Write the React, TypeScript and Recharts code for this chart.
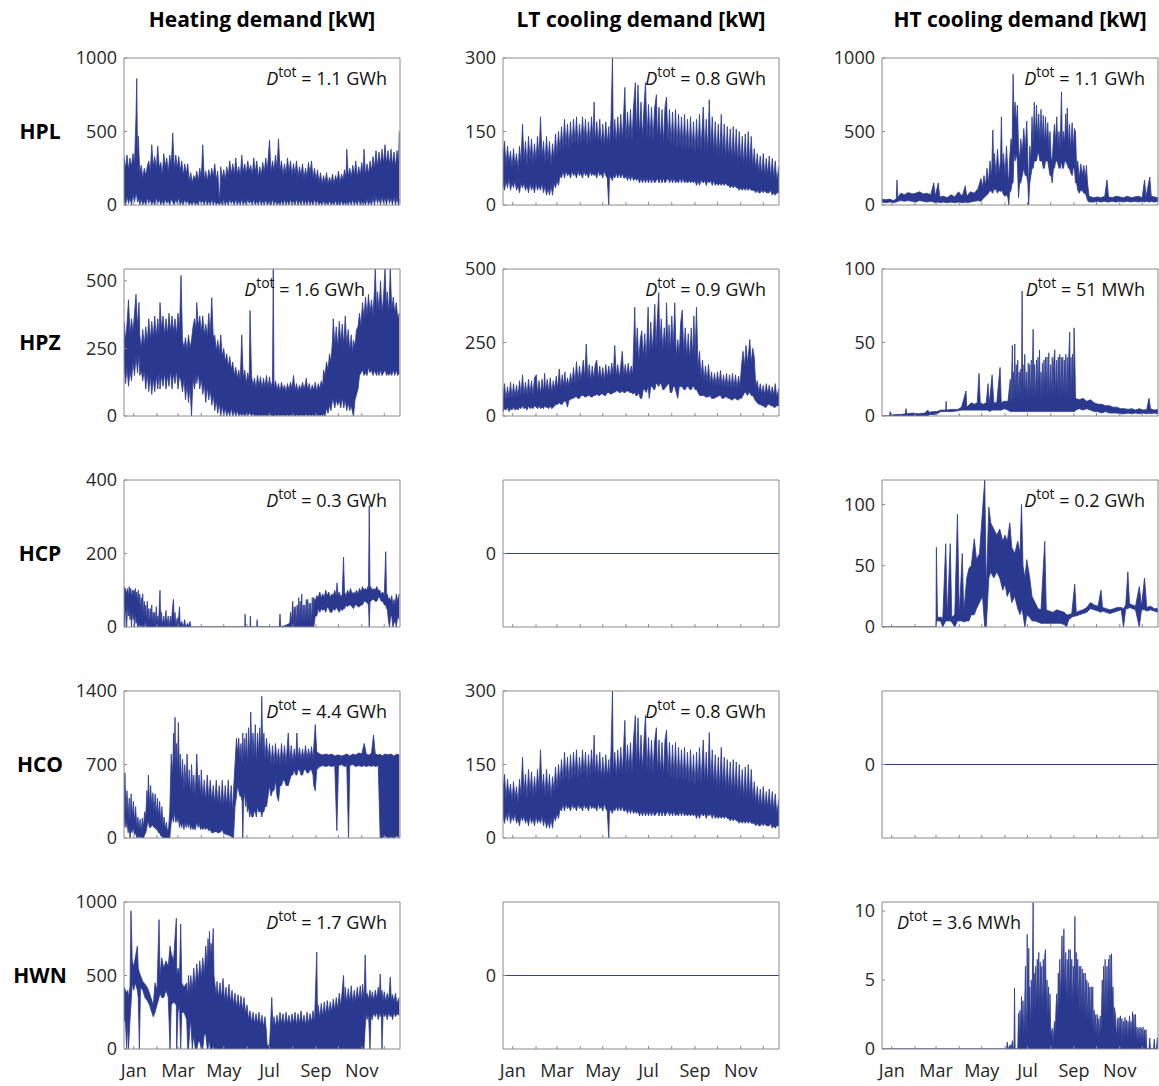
import React from 'react';
import { ComposedChart, Area, XAxis, YAxis } from 'recharts';

type Row3 = [number, number, number];

const rowNames = ['HPL', 'HPZ', 'HCP', 'HCO', 'HWN'];
const colTitles = ['Heating demand [kW]', 'LT cooling demand [kW]', 'HT cooling demand [kW]'];
const monthStarts = [0, 31, 59, 90, 120, 151, 181, 212, 243, 273, 304, 334];
const monthLabels = ['Jan', '', 'Mar', '', 'May', '', 'Jul', '', 'Sep', '', 'Nov', ''];
const dayRange: [number, number] = [-13, 355];

// [day, low, high]
const hplHeat: Row3[] = [
  [-13, 40, 330], [-11, 0, 250], [-9, 60, 340], [-7, 10, 240], [-5, 50, 320], [-3, 0, 260], [-1, 70, 350], [1, 20, 280],
  [3, 80, 600], [4, 60, 860], [5, 20, 300], [6, 50, 470], [8, 0, 220], [10, 40, 270], [12, 0, 180], [14, 30, 250],
  [16, 0, 200], [18, 50, 260], [20, 10, 300], [22, 40, 220], [24, 0, 410], [26, 30, 260], [28, 0, 330], [30, 50, 240],
  [32, 10, 400], [34, 40, 250], [36, 0, 290], [38, 30, 200], [40, 0, 350], [42, 40, 260], [44, 10, 320], [46, 30, 220],
  [48, 0, 340], [50, 40, 260], [52, 20, 490], [54, 0, 240], [56, 40, 340], [58, 10, 250], [60, 50, 330], [62, 0, 230],
  [64, 30, 300], [66, 0, 200], [68, 40, 280], [70, 10, 210], [72, 30, 280], [74, 0, 160], [76, 20, 220], [78, 0, 150],
  [80, 30, 200], [82, 0, 170], [84, 20, 230], [86, 0, 160], [88, 40, 250], [90, 10, 180], [92, 30, 410], [94, 0, 170],
  [96, 40, 230], [98, 0, 160], [100, 30, 240], [102, 0, 180], [104, 40, 250], [106, 0, 190], [108, 30, 280],
  [110, 0, 170], [112, 20, 230], [114.5, 0, 10], [116, 30, 260], [118, 0, 180], [120, 40, 240], [122, 0, 170],
  [124, 30, 260], [126, 0, 200], [128, 40, 300], [130, 10, 210], [132, 30, 280], [134, 0, 200], [136, 40, 320],
  [138, 0, 210], [140, 30, 260], [142, 0, 190], [144, 40, 340], [146, 0, 220], [148, 30, 280], [150, 0, 210],
  [152, 40, 300], [154, 10, 230], [156, 30, 270], [158, 0, 200], [160, 40, 320], [162, 0, 220], [164, 30, 300],
  [166, 0, 190], [168, 40, 260], [170, 0, 200], [172, 30, 290], [174, 0, 220], [176, 40, 320], [178, 0, 230],
  [181, 30, 440], [183, 0, 220], [185, 40, 300], [187, 0, 230], [189, 30, 340], [191, 0, 240], [193, 20, 450],
  [195, 0, 230], [197, 30, 300], [199, 0, 200], [201, 40, 280], [203, 0, 210], [205, 30, 320], [207, 0, 220],
  [209, 40, 300], [211, 0, 200], [213, 30, 280], [215, 0, 210], [217, 40, 300], [219, 0, 190], [221, 30, 260],
  [223, 0, 200], [225, 40, 280], [227, 0, 180], [229, 30, 250], [231, 0, 190], [233, 40, 290], [235, 0, 210],
  [237, 30, 300], [239, 0, 180], [241, 40, 250], [243, 0, 170], [245, 30, 240], [247, 0, 150], [249, 20, 220],
  [251, 0, 140], [253, 30, 200], [255, 0, 150], [257, 20, 220], [259, 0, 140], [261, 30, 190], [263, 0, 150],
  [265, 20, 210], [267, 0, 140], [269, 30, 200], [271, 0, 160], [273, 20, 230], [275, 0, 150], [277, 30, 210],
  [279, 0, 170], [281, 20, 240], [283, 0, 180], [284, 30, 380], [286, 0, 190], [288, 30, 250], [290, 0, 190],
  [292, 40, 270], [294, 0, 200], [296, 30, 300], [298, 0, 190], [300, 40, 260], [302, 0, 200], [304, 30, 290],
  [306, 0, 210], [307, 30, 380], [309, 0, 200], [311, 40, 280], [313, 0, 210], [315, 30, 300], [317, 0, 230],
  [319, 50, 330], [321, 0, 250], [323, 60, 370], [325, 10, 260], [327, 50, 360], [329, 0, 270], [331, 60, 380],
  [333, 10, 280], [335, 50, 410], [337, 0, 280], [339, 60, 370], [341, 10, 270], [343, 50, 380], [345, 0, 270],
  [347, 60, 360], [349, 0, 260], [351, 50, 370], [353, 0, 280], [354, 40, 500],
];

const hplLt: Row3[] = [
  [-13, 45, 95], [-11, 30, 130], [-9, 50, 80], [-7, 35, 120], [-5, 55, 85], [-3, 30, 110], [-1, 45, 75], [1, 35, 115],
  [3, 50, 80], [5, 30, 105], [7, 40, 70], [9, 25, 120], [11, 45, 85], [13, 35, 165], [15, 45, 90], [17, 30, 130],
  [19, 40, 80], [21, 25, 140], [23, 45, 90], [25, 30, 135], [27, 40, 85], [29, 25, 125], [31, 45, 90], [33, 30, 140],
  [35, 40, 95], [37, 30, 180], [39, 45, 95], [41, 25, 130], [43, 40, 85], [45, 20, 140], [47, 35, 90], [49, 20, 130],
  [51, 40, 80], [53, 20, 125], [55, 45, 95], [57, 35, 145], [59, 50, 100], [61, 40, 150], [63, 60, 110], [65, 55, 160],
  [67, 70, 115], [69, 55, 175], [71, 70, 120], [73, 60, 165], [75, 65, 115], [77, 55, 170], [79, 70, 120],
  [81, 60, 175], [83, 65, 125], [85, 55, 180], [87, 70, 120], [89, 60, 165], [91, 65, 125], [93, 55, 180],
  [95, 70, 130], [97, 60, 175], [99, 65, 120], [101, 55, 170], [103, 70, 125], [105, 60, 180], [107, 65, 130],
  [108.5, 60, 210], [110, 65, 125], [112, 55, 170], [114, 70, 125], [116, 60, 175], [118, 65, 120], [120, 55, 165],
  [122, 70, 120], [124, 60, 170], [126, 55, 125], [128, 0, 160], [129, 60, 120], [131, 55, 175], [133, 50, 300],
  [134, 60, 130], [136, 55, 175], [138, 65, 125], [140, 55, 180], [142, 65, 130], [144, 55, 185], [146, 65, 130],
  [148, 55, 190], [149.5, 55, 240], [151, 60, 130], [153, 50, 190], [155, 60, 135], [157, 50, 195], [159, 60, 130],
  [161, 50, 200], [163.5, 55, 250], [165, 50, 140], [167, 55, 245], [169, 45, 140], [171, 55, 210], [173, 45, 135],
  [175, 55, 200], [177, 45, 250], [179, 55, 135], [181, 45, 205], [183, 55, 135], [185, 45, 200], [187, 55, 130],
  [189, 45, 195], [191.5, 50, 225], [193, 55, 130], [195, 45, 200], [197, 55, 130], [199, 45, 195], [201, 55, 125],
  [203, 45, 200], [205, 50, 220], [207, 55, 125], [209, 45, 195], [211, 55, 120], [213, 45, 190], [215, 55, 120],
  [217, 45, 195], [219, 50, 115], [221, 45, 185], [223, 55, 120], [225, 45, 180], [227, 55, 115], [229, 45, 185],
  [231, 50, 115], [233, 45, 175], [235, 50, 110], [237, 45, 180], [239, 50, 110], [241, 45, 170], [243, 50, 105],
  [245, 40, 175], [247, 50, 110], [249, 40, 185], [251, 50, 110], [254, 45, 200], [256, 50, 110], [258, 40, 175],
  [260, 50, 105], [262, 45, 215], [264, 50, 110], [266, 40, 180], [268, 50, 105], [270, 40, 170], [272, 45, 100],
  [274, 40, 165], [276, 45, 100], [278, 40, 185], [280, 45, 100], [282, 40, 165], [284, 45, 95], [286, 40, 160],
  [288, 40, 95], [290, 35, 155], [292, 40, 90], [294, 35, 160], [296, 40, 90], [298, 35, 155], [300, 35, 85],
  [302, 30, 150], [304, 35, 85], [306, 30, 140], [308, 35, 80], [310, 30, 145], [312, 35, 80], [314, 30, 150],
  [316, 35, 80], [318, 30, 140], [320, 30, 75], [322, 30, 115], [324, 25, 70], [326, 30, 105], [328, 25, 65],
  [330, 25, 100], [332, 30, 60], [334, 25, 105], [336, 30, 60], [338, 25, 95], [340, 25, 60], [342, 25, 100],
  [344, 30, 55], [346, 20, 95], [348, 25, 55], [350, 20, 90], [352, 25, 50], [355, 25, 80],
];

const hplHt: Row3[] = [
  [-13, 20, 40], [-8, 15, 35], [-3, 20, 40], [2, 15, 30], [6, 20, 40], [7, 20, 170], [8, 25, 50], [12, 30, 80],
  [17, 25, 70], [22, 30, 85], [27, 25, 75], [32, 20, 80], [37, 30, 90], [42, 25, 75], [47, 20, 80], [52, 25, 70],
  [56, 20, 150], [58, 15, 60], [62, 20, 150], [64, 15, 55], [69, 20, 60], [74, 15, 50], [79, 20, 70], [84, 15, 55],
  [89, 20, 90], [94, 15, 60], [98, 20, 130], [100, 15, 60], [105, 20, 90], [110, 25, 80], [115, 30, 110],
  [119, 25, 180], [121, 40, 120], [123, 50, 200], [125, 60, 130], [127, 70, 250], [129, 80, 150], [131, 100, 300],
  [133, 90, 180], [134.8, 80, 510], [136, 120, 250], [137, 100, 350], [139, 110, 200], [141, 80, 380],
  [143, 100, 220], [145, 90, 300], [146.2, 100, 600], [147.5, 90, 250], [149, 70, 350], [151, 60, 200],
  [153, 70, 400], [155, 50, 200], [156, 0, 150], [157, 80, 300], [159, 100, 450], [160.5, 150, 400],
  [161.8, 150, 890], [163, 350, 600], [164.5, 300, 700], [166, 350, 550], [167.5, 300, 680], [169, 50, 400],
  [170.5, 150, 300], [172, 150, 450], [174, 200, 350], [176, 250, 520], [178, 200, 380], [180, 200, 570],
  [181.5, 150, 300], [182.5, 0, 100], [184, 150, 400], [185.5, 200, 300], [187, 250, 600], [188.5, 250, 400],
  [190, 300, 700], [191.5, 300, 450], [193, 300, 680], [194.5, 350, 450], [196, 350, 620], [197.5, 300, 420],
  [199, 300, 650], [200.5, 300, 450], [202, 250, 610], [203.5, 250, 400], [205, 300, 600], [206.5, 300, 420],
  [208, 300, 560], [209.5, 250, 380], [211, 200, 500], [212.5, 200, 320], [214, 150, 300], [215.5, 250, 450],
  [217, 250, 550], [218.5, 300, 420], [220, 300, 600], [221.5, 280, 400], [223, 250, 500], [224.5, 250, 380],
  [226.3, 300, 770], [227.5, 250, 400], [229, 250, 500], [230.5, 300, 420], [232, 300, 620], [233, 280, 450],
  [234, 280, 660], [235.5, 250, 400], [237, 250, 550], [238.5, 220, 380], [240.5, 200, 560], [242, 250, 380],
  [243.5, 250, 520], [245, 150, 500], [246.5, 150, 250], [248, 100, 300], [250, 80, 180], [252, 100, 280],
  [254, 100, 200], [256, 80, 270], [258, 80, 180], [259.5, 60, 270], [261, 30, 150], [263, 20, 60],
  [269, 20, 50], [274, 25, 55], [279, 20, 50], [284, 25, 60],
  [287, 20, 170], [289, 20, 55], [294, 25, 50], [299, 20, 60], [304, 25, 55], [309, 20, 50], [314, 25, 60], [319, 20, 50],
  [324, 25, 55], [329, 20, 60], [334, 25, 50], [337, 20, 170], [339, 25, 55], [344, 20, 190], [346, 25, 60],
  [350, 20, 55], [355, 25, 50],
];

const hpzHeat: Row3[] = [
  [-13, 200, 350], [-11, 120, 280], [-9, 180, 340], [-7, 110, 430], [-5, 170, 300], [-3, 130, 360], [-1, 200, 310],
  [1, 150, 380], [3, 220, 450], [5, 160, 330], [7, 230, 420], [8, 150, 300], [10, 170, 250], [12, 130, 320],
  [14, 170, 260], [16, 100, 330], [18, 160, 270], [20, 90, 360], [22, 150, 280], [24, 80, 350], [26, 140, 290],
  [28, 90, 370], [30, 150, 290], [32, 100, 360], [34, 160, 300], [35, 100, 420], [37, 150, 320], [39, 110, 370],
  [41, 160, 300], [43, 100, 360], [45, 150, 300], [47, 110, 380], [49, 170, 310], [51, 100, 370], [53, 160, 310],
  [55, 120, 360], [57, 170, 300], [59, 100, 380], [61, 150, 320], [63, 130, 520], [65, 90, 280], [67, 140, 250],
  [69, 60, 290], [71, 120, 240], [73, 50, 300], [75, 110, 250], [77, 0, 280], [79, 140, 330], [81, 100, 360],
  [83, 150, 320], [84, 120, 420], [86, 160, 330], [88, 100, 370], [90, 140, 310], [92, 80, 370], [94, 120, 300],
  [96, 50, 340], [98, 110, 290], [100, 60, 380], [102, 100, 300], [104, 40, 438], [106, 80, 290], [108, 20, 300],
  [110, 60, 240], [112, 10, 280], [114, 50, 230], [116, 0, 300], [118, 40, 220], [120, 0, 250], [122, 30, 200],
  [124, 0, 230], [126, 20, 180], [128, 0, 220], [130, 30, 170], [132, 0, 200], [134, 20, 150], [136, 0, 180],
  [138, 20, 140], [140, 0, 170], [142, 10, 130], [144, 0, 300], [146, 10, 140], [148, 0, 170], [150, 10, 120],
  [152, 0, 160], [154, 10, 130], [155, 10, 390], [157, 0, 150], [159, 10, 110], [161, 0, 140], [163, 5, 100],
  [165, 0, 150], [167, 5, 110], [169, 0, 145], [171, 5, 100], [173, 0, 140], [175, 5, 105], [177, 0, 150],
  [179, 5, 100], [181, 0, 145], [183, 5, 105], [185, 0, 130], [186, 0, 544], [187, 0, 100], [189, 5, 130],
  [191, 0, 95], [193, 5, 120], [195, 0, 90], [197, 5, 125], [199, 0, 95], [201, 5, 115], [203, 0, 90], [205, 5, 120],
  [207, 0, 95], [209, 5, 125], [211, 0, 100], [213, 5, 150], [215, 0, 95], [217, 5, 120], [219, 0, 90], [221, 5, 115],
  [223, 0, 95], [225, 5, 125], [227, 0, 100], [229, 5, 120], [230, 5, 140], [232, 0, 95], [234, 5, 120], [236, 0, 90],
  [238, 5, 115], [240, 0, 95], [242, 5, 125], [244, 0, 90], [246, 5, 120], [248, 0, 100], [250, 5, 130], [252, 0, 110],
  [253, 10, 170], [255, 0, 150], [257, 30, 200], [259, 10, 170], [261, 40, 230], [263, 20, 200], [265, 60, 280],
  [266, 60, 360], [268, 30, 260], [270, 60, 330], [272, 40, 250], [274, 60, 350], [276, 30, 270], [278, 70, 340],
  [280, 30, 260], [282, 60, 370], [284, 20, 260], [286, 50, 320], [288, 20, 240], [290, 40, 300], [292, 10, 230],
  [293, 0, 280], [295, 60, 260], [297, 80, 320], [299, 100, 330], [301, 150, 380], [303, 160, 330], [305, 170, 420],
  [307, 150, 360], [309, 160, 440], [311, 150, 370], [313, 180, 450], [315, 160, 380], [317, 170, 430],
  [319, 150, 370], [321, 170, 470], [322, 160, 544], [324, 150, 380], [325, 170, 460], [327, 150, 390],
  [329, 170, 500], [331, 150, 380], [333, 160, 440], [335, 170, 544], [337, 150, 400], [338, 160, 460],
  [340, 150, 380], [342, 160, 544], [344, 150, 390], [346, 170, 440], [348, 150, 380], [350, 170, 420],
  [352, 150, 360], [354, 160, 380],
];

const hpzLt: Row3[] = [
  [-13, 15, 60], [-11, 25, 110], [-9, 20, 55], [-7, 30, 100], [-5, 15, 60], [-3, 25, 115], [-1, 20, 60], [1, 30, 110],
  [3, 20, 65], [5, 25, 105], [7, 20, 65], [9, 30, 120], [11, 25, 70], [13, 35, 140], [15, 25, 70], [17, 30, 115],
  [19, 20, 70], [21, 35, 125], [23, 25, 75], [25, 30, 120], [27, 25, 70], [29, 35, 130], [31.5, 30, 140], [33, 25, 75],
  [35, 35, 120], [37, 25, 75], [39, 30, 125], [41, 25, 80], [42.5, 35, 145], [44, 30, 80], [46, 30, 125], [48, 25, 80],
  [50, 35, 130], [52, 25, 80], [54, 30, 120], [56, 35, 90], [58, 40, 135], [60, 40, 90], [62, 45, 160], [64, 40, 95],
  [66, 40, 140], [68, 50, 100], [69.5, 50, 150], [71, 50, 100], [73, 30, 130], [75, 55, 100], [77, 55, 145],
  [79, 60, 110], [81, 60, 165], [83, 65, 110], [85, 65, 185], [87, 60, 115], [89, 60, 170], [91, 70, 120],
  [94, 70, 190], [96, 65, 125], [98, 65, 245], [100, 70, 125], [102, 70, 175], [104, 65, 120], [106, 65, 170],
  [108, 70, 125], [110, 70, 175], [112, 75, 190], [114, 70, 125], [116, 70, 170], [118, 75, 125], [120, 75, 165],
  [122, 70, 120], [124, 70, 175], [126, 80, 130], [128, 80, 170], [130, 75, 130], [132, 75, 180], [134, 80, 135],
  [136, 80, 240], [138, 85, 135], [140, 85, 175], [142, 80, 130], [144, 80, 170], [146, 85, 220], [148, 80, 135],
  [150, 80, 175], [152, 85, 135], [154, 85, 180], [156, 80, 135], [158, 80, 170], [160, 75, 140], [162.7, 80, 370],
  [164, 70, 200], [166, 70, 300], [168, 80, 180], [170, 60, 260], [172, 60, 290], [174, 90, 200], [176, 90, 280],
  [178, 80, 190], [180.5, 100, 370], [182, 60, 200], [184, 100, 320], [186, 100, 220], [188, 90, 300],
  [189.4, 90, 380], [191, 110, 230], [192.5, 110, 320], [194.7, 100, 420], [196, 110, 240], [198, 110, 330],
  [200, 90, 220], [202, 90, 300], [204, 100, 230], [205, 100, 385], [207, 110, 230], [208.5, 110, 310],
  [210, 80, 220], [212, 80, 340], [214, 100, 230], [216, 100, 385], [218, 80, 200], [220, 60, 260], [222, 100, 210],
  [224, 100, 320], [226, 100, 360], [228, 90, 210], [230, 90, 300], [232, 100, 200], [234, 100, 280],
  [236, 90, 190], [238, 90, 300], [240, 100, 200], [241.5, 100, 340], [243, 90, 200], [245, 90, 370],
  [247, 80, 160], [249, 70, 220], [251, 70, 130], [253, 70, 190], [255, 70, 120], [257, 65, 170], [259, 65, 115],
  [261, 65, 175], [263, 70, 110], [265, 60, 150], [267, 60, 105], [269, 60, 145], [271, 65, 105], [273, 65, 150],
  [275, 70, 105], [277, 70, 155], [279, 60, 100], [281, 60, 140], [283, 65, 100], [285, 65, 145], [287, 60, 95],
  [289, 60, 140], [291, 55, 95], [293, 55, 145], [295, 60, 95], [297, 60, 140], [299, 55, 95], [301, 55, 135],
  [303, 60, 100], [305, 60, 170], [307, 70, 220], [309, 80, 170], [311, 80, 240], [313, 70, 180], [315, 80, 230],
  [316, 80, 260], [318, 70, 180], [320, 70, 230], [322, 60, 200], [324, 50, 100], [326, 45, 120], [328, 40, 80],
  [330, 40, 110], [332, 35, 75], [334, 35, 105], [336, 30, 70], [338, 30, 110], [340, 40, 75], [342, 40, 105],
  [344, 35, 70], [346, 35, 100], [348, 30, 70], [350, 30, 110], [352, 35, 65], [355, 35, 95],
];

const hpzHt: Row3[] = [
  [-13, 0, 0], [-3, 0, 0], [-2, 0, 3], [-1, 0, 0.5], [5, 0, 1], [12, 0, 1], [18, 0, 1.5], [19, 0, 5], [20, 0, 1.5],
  [28, 0, 2], [36, 0, 1.5], [44, 0, 2], [48, 0, 4], [50, 1, 2.5], [56, 1, 3], [61, 1.5, 3], [65, 3, 4], [72, 3, 4],
  [72.5, 3, 10], [73, 3, 4], [80, 3, 4.5], [88, 3.5, 4.5], [93, 4, 6], [99, 4, 17], [100, 4, 6], [106, 4, 9],
  [110, 4, 8], [114, 4, 9], [116.4, 4, 29], [118, 4, 9], [122, 4, 8], [126, 4, 9], [128.4, 4, 22], [130, 3, 8],
  [133.8, 4, 28], [136, 4, 9], [140, 4, 9], [144.4, 4, 33], [146, 4, 9], [150, 5, 10], [155, 4, 10],
  [158, 3, 25], [159, 3, 8], [160.8, 3, 48], [161.5, 3, 10], [162, 3, 30], [163, 3, 8], [164, 3, 49], [165, 3, 12],
  [166, 3, 35], [167, 3, 10], [168, 3, 38], [169, 3, 12], [170, 3, 30], [171, 3, 10], [172, 3, 32], [173, 3, 12],
  [173.8, 3, 85], [174.5, 3, 12], [175, 3, 35], [176, 3, 10], [177.4, 3, 42], [178.5, 3, 12], [180, 3, 30],
  [181, 3, 10], [182, 3, 36], [183, 3, 12], [184, 3, 35], [185, 3, 10], [186, 3, 38], [187, 3, 12], [188.5, 3, 59],
  [189.5, 3, 12], [190.5, 3, 35], [191.5, 3, 10], [193, 3, 38], [194, 3, 12], [195, 3, 40], [196, 3, 12],
  [197, 3, 45], [198, 3, 12], [199, 3, 30], [200, 3, 10], [201, 3, 36], [202, 3, 12], [203, 3, 38], [204, 3, 12],
  [205, 3, 40], [206, 3, 12], [207, 3, 40], [208, 3, 12], [209.4, 3, 43], [210.5, 3, 12], [212, 3, 35], [213, 3, 12],
  [214, 3, 40], [215, 3, 12], [216, 3, 38], [217.4, 3, 45], [218.5, 3, 12], [220, 3, 38], [221, 3, 12], [222, 3, 40],
  [223, 3, 12], [224, 3, 42], [225, 3, 12], [226, 3, 40], [227, 3, 12], [228, 3, 40], [229, 3, 12], [230, 3, 38],
  [231, 3, 12], [232, 3, 42], [233, 3, 12], [234, 3, 40], [235, 3, 12], [236, 3, 40], [237.3, 3, 57], [238, 3, 12],
  [239, 3, 40], [240, 3, 12], [241, 3, 42], [242, 3, 12], [243.1, 3, 60], [244, 3, 42], [245, 4, 12],
  [250, 5, 11], [255, 4, 12], [260, 5, 10], [265, 4, 11], [270, 3, 9], [275, 3, 8],
  [280, 2, 8], [285, 3, 7], [290, 2, 7], [295, 2, 6], [300, 2, 6], [305, 1.5, 5], [310, 1.5, 5], [315, 2, 4.5],
  [320, 1.5, 5], [325, 2, 4], [330, 1.5, 5], [335, 2, 4], [340, 1.5, 4.5], [343, 2, 12], [345, 1.5, 5], [350, 2, 4],
  [355, 1.5, 4.5],
];

const hcpHeat: Row3[] = [
  [-13, 60, 110], [-12, 0, 100], [-11, 50, 105], [-10, 40, 90], [-9.5, 0, 95], [-8, 60, 105], [-7, 30, 80],
  [-6, 50, 110], [-5, 20, 90], [-4, 40, 105], [-3, 0, 80], [-2, 50, 100], [-1, 20, 85], [0, 40, 100], [1, 0, 90],
  [2, 40, 105], [3, 10, 80], [4, 20, 95], [5, 0, 70], [6, 10, 100], [7, 0, 60], [8, 10, 90], [9, 0, 50], [10, 10, 80],
  [11, 0, 40], [12, 0, 90], [13, 0, 30], [14, 10, 70], [15, 0, 30], [16, 20, 60], [17, 0, 20], [18, 0, 70],
  [19, 0, 15], [20, 0, 50], [21, 0, 10], [22, 0, 50], [23, 0, 15], [24, 0, 60], [25, 0, 10], [26, 0, 40], [27, 0, 5],
  [28, 0, 40], [29, 0, 10], [30, 0, 55], [31, 0, 10], [32, 0, 30], [33, 0, 5], [35, 0, 100], [36, 0, 10], [37, 0, 40],
  [38, 0, 5], [40, 0, 30], [41, 0, 5], [43, 0, 45], [44, 0, 5], [46, 0, 30], [47, 0, 0], [49, 0, 30], [50, 0, 5],
  [52, 0, 60], [53, 0, 75], [54, 0, 10], [55, 0, 40], [56, 0, 5], [58, 0, 25], [59, 0, 5], [61, 0, 55], [62, 0, 5],
  [64, 0, 15], [66, 0, 0], [68, 0, 20], [69, 0, 0], [72, 0, 10], [73, 0, 0], [75, 0, 15], [76, 0, 0], [78, 0, 0],
  [148, 0, 0], [148.5, 0, 35], [149, 0, 0], [155, 0, 0], [155.5, 0, 30], [156, 0, 0], [164, 0, 0], [164.5, 0, 20],
  [165, 0, 0], [194, 0, 0], [195, 0, 35], [196, 0, 0], [203, 0, 5], [208, 0, 10], [209, 0, 40], [210, 0, 5],
  [212, 0, 70], [213, 0, 10], [214, 0, 55], [215, 0, 0], [216, 0, 55], [217, 0, 10], [218, 0, 60], [219, 0, 5],
  [220, 0, 80], [221, 0, 20], [222, 0, 70], [223, 0, 10], [224, 0, 90], [225, 0, 15], [226, 0, 60], [227, 0, 10],
  [228, 0, 60], [229, 0, 20], [230, 0, 75], [231, 0, 10], [232, 0, 75], [233, 0, 20], [234, 0, 65], [235, 0, 15],
  [236, 0, 65], [237, 0, 10], [238, 0, 80], [239, 0, 30], [240, 0, 80], [242, 30, 70], [244, 30, 85], [246, 50, 80],
  [248, 40, 95], [250, 50, 80], [252, 45, 90], [254, 50, 80], [256, 40, 100], [258, 55, 85], [260, 50, 95],
  [262, 40, 80], [264, 40, 90], [266, 50, 85], [268, 45, 100], [270, 55, 85], [271, 50, 120], [272.5, 45, 85],
  [274, 40, 95], [276, 50, 80], [278, 45, 90], [279.7, 50, 190], [281, 50, 95], [283, 60, 85], [285, 55, 100],
  [287, 60, 90], [289, 60, 105], [291, 55, 90], [293, 50, 95], [295, 60, 90], [297, 60, 100], [299, 55, 90],
  [301, 55, 105], [303, 60, 95], [305, 60, 110], [307, 70, 100], [309, 70, 105], [311, 65, 100], [312, 65, 110],
  [313, 60, 100], [314, 0, 330], [315, 70, 100], [316, 70, 110], [318, 75, 100], [320, 75, 105], [322, 70, 100],
  [324, 70, 110], [326, 80, 100], [328, 80, 100], [330, 70, 90], [332, 70, 95], [334, 60, 85], [336, 60, 205],
  [337, 50, 85], [338, 50, 90], [339.5, 20, 75], [341, 0, 80], [342.5, 30, 70], [344, 30, 85], [345.5, 0, 60],
  [347, 10, 75], [348.5, 20, 60], [350, 0, 90], [352, 30, 70], [354, 20, 90],
];

const hcpHt: Row3[] = [
  [-13, 0, 0], [59, 0, 0], [59.5, 5, 65], [61, 5, 8], [65, 5, 8], [68, 0, 7], [72, 5, 68], [74, 5, 8], [78, 5, 68],
  [80, 4, 8], [84, 0, 10], [87.6, 5, 92], [90, 5, 10], [94, 5, 60], [96, 4, 12], [100, 5, 40], [103, 5, 48],
  [106, 10, 50], [110, 10, 72], [113, 15, 55], [117, 20, 60], [121, 25, 95], [124, 0, 120], [126, 0, 30],
  [129.4, 40, 98], [132, 45, 85], [136, 40, 80], [140, 45, 75], [144, 40, 80], [148, 30, 70], [151, 35, 75],
  [154, 25, 70], [157.4, 30, 85], [160, 20, 65], [164, 25, 60], [168, 15, 70], [171, 10, 60], [173, 15, 100],
  [175, 10, 50], [177.5, 0, 40], [180, 10, 55], [184, 8, 40], [187, 5, 25], [191, 5, 20], [195, 4, 15], [199, 3, 14],
  [204, 3, 70], [206, 3, 14], [210, 3, 13], [215, 3, 12], [220, 3, 14], [225, 3, 13], [230, 2, 12], [233, 0, 10],
  [236, 6, 10], [240, 8, 11], [244, 9, 35], [246, 9, 12], [250, 10, 13], [255, 11, 14], [260, 12, 16], [265, 15, 20],
  [270, 14, 18], [275, 13, 17], [279, 12, 30], [281, 13, 16], [286, 12, 15], [291, 11, 14], [296, 12, 15],
  [301, 13, 16], [306, 14, 16], [309, 0, 15], [312, 15, 18], [314.8, 15, 45], [317, 16, 19], [321, 15, 18],
  [325, 14, 17], [330, 0, 33], [333, 14, 17], [337, 14, 40], [340, 13, 16], [345, 14, 17], [350, 13, 15], [355, 12, 15],
];

const hcoHeat: Row3[] = [
  [-13, 100, 400], [-11.7, 200, 620], [-10.5, 100, 250], [-9, 150, 450], [-7.5, 50, 200], [-6, 100, 380],
  [-5, 0, 150], [-3.5, 80, 420], [-2, 50, 200], [-0.5, 100, 350], [1, 30, 150], [2.5, 50, 300], [4, 0, 100],
  [5.5, 20, 200], [7, 0, 80], [8.5, 20, 180], [10, 0, 60], [11.5, 0, 190], [13, 0, 100], [14.5, 30, 250],
  [16, 50, 200], [17.5, 100, 450], [18.5, 150, 300], [19.5, 150, 600], [21, 100, 300], [22.5, 100, 500],
  [24, 120, 300], [25.5, 120, 430], [27, 100, 250], [28.5, 100, 420], [30, 80, 220], [31.5, 80, 380],
  [33, 50, 200], [34.5, 50, 350], [36, 20, 150], [37.5, 20, 300], [39, 0, 120], [40.5, 0, 200], [42, 0, 80],
  [43.5, 0, 150], [45, 0, 60], [46.5, 0, 100], [48, 0, 250],
  [50, 150, 800], [52, 200, 600], [53, 150, 1000], [54, 250, 700], [55, 200, 1150], [56, 150, 650], [57, 200, 900],
  [58, 150, 600], [59.5, 200, 1100], [61, 100, 550], [62, 150, 800], [64, 100, 500], [65, 150, 750], [67, 80, 450],
  [68, 150, 700], [70, 100, 480], [71, 150, 800], [73, 100, 450], [74, 150, 650], [76, 80, 400], [77, 120, 700],
  [79, 80, 420], [80, 100, 600], [82, 80, 400], [84, 150, 800], [86, 100, 450], [87, 150, 600], [89, 80, 400],
  [90, 100, 650], [92, 80, 380], [94, 100, 550], [96, 80, 350], [98, 100, 600], [100, 70, 360], [102, 80, 550],
  [104, 50, 350], [106, 50, 500], [108, 60, 330], [110, 60, 550], [112, 50, 320], [114, 50, 500], [116, 60, 300],
  [118, 80, 550], [120, 40, 300], [122, 40, 500], [124, 30, 300], [126, 30, 550], [128, 20, 280], [130, 20, 500],
  [131.5, 0, 250], [133, 0, 450],
  [135, 300, 700], [137, 400, 950], [138.5, 500, 800], [140, 450, 950], [141.5, 400, 750], [143, 400, 900],
  [144.5, 350, 700], [145.4, 0, 1000], [146.5, 350, 750], [148, 450, 950], [149, 300, 700], [150, 400, 1000],
  [151.5, 250, 700], [153, 300, 1050], [154.5, 200, 750], [156, 250, 1200], [157.5, 200, 800], [159, 200, 1000],
  [160.5, 250, 750], [162, 250, 1080], [163.5, 200, 700], [165, 300, 1000], [166.5, 250, 800], [168, 250, 1050],
  [169.5, 250, 800], [170.7, 200, 1350], [172, 250, 800], [173.5, 250, 1000], [175, 300, 750], [177, 300, 950],
  [179, 400, 750], [181, 500, 900], [183, 400, 700], [185, 450, 880], [187, 450, 700], [189, 550, 900],
  [191, 400, 720], [193, 350, 850], [195, 500, 700], [197, 500, 900], [199, 550, 720], [201, 550, 880],
  [203, 500, 700], [206, 500, 1000], [208, 550, 720], [210, 600, 880], [212, 600, 720], [214, 650, 850],
  [216, 600, 740], [217.5, 600, 1000], [219, 650, 750], [221, 650, 860], [223, 600, 740], [225, 600, 850],
  [227, 650, 750], [229, 650, 880], [231, 620, 750], [233, 620, 850], [235, 650, 760], [237, 650, 870],
  [239, 600, 750], [240, 500, 860], [242, 450, 1080], [244, 650, 820],
  [248, 680, 800], [252, 690, 790], [256, 680, 800], [260, 690, 790], [264, 680, 800], [268, 690, 780],
  [270.8, 70, 790], [273, 690, 790], [277, 700, 780], [281, 680, 790], [284, 690, 800], [286.4, 0, 790],
  [288, 690, 780], [292, 700, 800], [296, 680, 790], [300, 690, 810], [304, 680, 800], [307.3, 690, 900],
  [310, 680, 800], [314, 690, 790], [317, 680, 810], [319.7, 690, 980], [322, 680, 800], [326, 690, 790],
  [328.6, 0, 800], [331, 0, 780], [335, 20, 800], [339, 0, 790], [343, 10, 800], [347, 0, 780], [351, 20, 800],
  [354, 0, 790],
];

// the LT cooling demand of HCO is drawn with the same profile as HPL
const hcoLt: Row3[] = hplLt;

const hwnHeat: Row3[] = [
  [-13, 200, 420], [-11, 180, 400], [-9.4, 0, 380], [-8, 200, 400], [-7, 0, 350], [-5, 200, 420], [-3.7, 300, 940],
  [-2, 450, 600], [0, 400, 560], [2, 450, 620], [4.8, 400, 700], [6, 350, 550], [7.5, 0, 520], [9, 420, 500],
  [12, 400, 460], [15, 350, 440], [18, 330, 420], [21, 300, 380], [24, 250, 330], [26, 220, 300], [28.4, 250, 450],
  [31, 300, 400], [33.7, 350, 880], [35, 380, 500], [37.3, 350, 620], [40, 350, 550], [43, 400, 600], [46, 350, 560],
  [48.4, 0, 700], [50, 300, 650], [53, 320, 600], [56.8, 300, 890], [57.3, 0, 500], [59, 250, 550], [61, 300, 500],
  [62.6, 0, 850], [64, 250, 450], [67, 250, 420],
  [70.6, 200, 450], [72, 0, 350], [73, 0, 500], [75, 150, 380], [76, 200, 500], [78, 0, 400], [80, 100, 550],
  [82, 0, 420], [84, 0, 580], [86, 50, 450], [88, 50, 600], [90, 0, 480], [92, 0, 620], [94, 100, 500],
  [96, 100, 700], [98, 0, 550], [99, 0, 750], [100, 50, 600], [101, 50, 800], [102, 0, 600], [103, 0, 720],
  [104.5, 0, 650], [106, 30, 820], [107, 0, 500], [108, 0, 450], [110, 0, 360], [111, 0, 460], [113, 0, 350],
  [115, 0, 450], [117, 0, 340], [119, 0, 480], [121, 0, 330], [123, 0, 420], [125, 0, 320], [127, 0, 440],
  [129, 0, 310], [131, 0, 400], [133, 0, 300], [135, 0, 380], [137, 0, 280], [139, 0, 370], [141, 0, 270],
  [143, 0, 360], [145, 0, 260], [147, 0, 350], [149, 0, 240], [151, 0, 300], [153, 0, 200], [155, 0, 260],
  [157, 0, 180], [159, 0, 250], [161, 0, 170], [163, 0, 240], [165, 0, 170], [167, 0, 250], [169, 0, 160],
  [171, 0, 230], [173, 0, 150], [175, 0, 220], [176.5, 0, 140], [178, 0, 20], [181, 0, 30], [182.5, 0, 170],
  [184, 0, 350], [185.5, 0, 160], [187, 0, 220], [189, 0, 150], [191, 0, 230], [193, 0, 160], [195, 0, 250],
  [197, 0, 170], [199, 0, 240], [201, 0, 160], [203, 0, 250], [205, 0, 170], [207, 0, 230], [209, 0, 160],
  [211, 0, 240], [213, 0, 170], [215, 0, 250], [217, 0, 160], [219, 0, 240], [221, 0, 170], [223, 0, 260],
  [225, 0, 170], [227, 0, 230], [229, 0, 160], [231, 0, 250], [233, 0, 170], [235, 0, 240], [237, 0, 180],
  [239, 0, 260], [241, 0, 180], [244, 0, 660], [245, 0, 200], [246, 0, 300], [248, 0, 210], [250, 0, 310],
  [252, 0, 220], [254, 0, 320], [256, 0, 230], [258, 0, 330], [260, 0, 240], [262, 0, 320], [264, 0, 250],
  [266, 0, 340], [268, 0, 260], [270, 0, 350], [272, 0, 270], [274, 0, 380], [276, 0, 290], [278, 0, 400],
  [279.7, 0, 500], [281, 0, 300], [282, 0, 420], [284, 0, 310], [286, 0, 410], [288, 0, 320], [290, 0, 430],
  [292, 0, 310], [294, 0, 400], [296, 0, 320], [298, 0, 420], [300, 0, 330], [302, 0, 430], [304, 0, 320],
  [305, 0, 440], [307, 0, 340], [308.6, 150, 640], [310, 250, 350], [311, 200, 380], [313, 240, 340],
  [315, 0, 400], [316.5, 240, 330], [318, 200, 390], [320, 250, 330], [322, 220, 400], [324, 250, 340],
  [326, 200, 420], [327.5, 250, 350], [328.6, 220, 510], [330, 250, 340], [331, 0, 400], [332.5, 250, 330],
  [334, 220, 390], [336, 240, 320], [338, 200, 380], [340, 250, 330], [342, 220, 490], [343.5, 240, 330],
  [345, 200, 370], [347, 250, 320], [349, 220, 380], [351, 240, 310], [354, 230, 350],
];

const hwnHt: Row3[] = [
  [-13, 0, 0], [150, 0, 0], [153, 0, 0], [154, 0, 0.5], [155, 0, 0], [158, 0, 0.3], [159, 0, 0], [161, 0, 0.6],
  [162, 0, 0], [163, 0, 0], [163.7, 0, 4.4], [164.5, 0, 0], [168, 0, 0],
  [169, 0, 2.6], [170, 0, 0.5], [171, 0, 2.8], [172, 0, 1], [173, 0, 3.8], [174, 0, 1.5], [175, 0, 3.5], [176, 0, 1],
  [177, 0, 2.5], [178.3, 0, 6], [179, 0, 1], [180, 0, 3], [180.6, 0, 8.3], [181.5, 0, 2], [182.7, 0, 7.3],
  [183.5, 0, 2], [184, 0, 4.5], [185, 0, 1.5], [186, 0, 5], [187, 0, 2], [188.5, 0, 10.6], [189.2, 0, 3],
  [190, 0, 5.5], [191, 0, 2.5], [192, 0, 6], [193, 0, 3], [194, 0, 6.5], [195, 0, 3], [196, 0, 7], [197, 0, 2.5],
  [198, 0, 6.3], [199, 0, 3], [200, 0, 6], [201, 0, 2.5], [202, 0, 6.5], [203, 0, 3], [204, 0, 6.8], [205, 0, 7.2],
  [206, 0, 2.5], [207, 0, 5], [208, 0, 2], [209, 0, 4.5], [210, 0, 1.5], [211, 0, 4], [212, 0, 1], [214, 0, 1.5],
  [215, 0, 0.5], [217, 0, 2], [218, 0, 1], [219, 0, 3], [220, 0, 4], [221, 0, 2], [222, 0, 5.5], [223, 0, 3],
  [224, 0, 6.5], [225, 0, 3.5], [227, 0, 8.2], [228, 0, 4], [229.5, 0, 8.7], [230.5, 0, 4], [232, 0, 7], [233, 0, 3],
  [234, 0, 6.5], [235, 0, 3.5], [236, 0, 7.2], [237, 0, 4], [238, 0, 7.2], [239, 0, 3.5], [240, 0, 6.5], [241, 0, 3],
  [242, 0, 6], [243, 0, 3.5], [244.2, 0, 9.6], [245, 0, 4], [246, 0, 7], [247, 0, 3.5], [248, 0, 6.5], [249, 0, 3],
  [250, 0, 6], [251, 0, 2.5], [252, 0, 6], [253, 0, 3], [254, 0, 5.8], [255, 0, 2.5], [256, 0, 5.5], [257, 0, 2.5],
  [258, 0, 5.5], [259, 0, 2], [260, 0, 5], [261, 0, 2], [262, 0, 4.8], [263, 0, 2], [264, 0, 4.5], [265, 0, 2],
  [266, 0, 4.5], [267, 0, 1.5], [268, 0, 4.5], [269, 0, 1], [270, 0, 2.8], [271, 0, 1], [272, 0, 2.5], [273, 0, 1],
  [274, 0, 2.5], [275, 0, 0.8], [276, 0, 2.2], [277, 0, 1], [278, 0, 2.4], [279, 0, 1.2], [280.7, 0, 5],
  [281.5, 0, 2], [282.5, 0, 6], [283.5, 0, 2.5], [284.5, 0, 6.5], [285.5, 0, 2.5], [287, 0, 6], [288, 0, 2.5],
  [289, 0, 6.5], [290, 0, 3], [291, 0, 6.8], [292, 0, 2.5], [293, 0, 6.9], [294, 0, 3], [295, 0, 4.5], [296, 0, 1.5],
  [297, 0, 3], [298.4, 0, 2.4], [299.5, 0, 0.8], [301, 0, 2.2], [302, 0, 0.8], [303, 0, 2.3], [304, 0, 1],
  [305, 0, 2.4], [306, 0, 0.8], [307, 0, 2.2], [308, 0, 0.5], [309, 0, 2], [310, 0, 0.8], [311, 0, 2.3], [312, 0, 1],
  [313, 0, 2.1], [314, 0, 0.5], [315, 0, 2], [316, 0, 0.8], [317, 0, 2.4], [318, 0, 1], [319, 0, 2], [320, 0, 0.8],
  [321, 0, 2.7], [322, 0, 1], [323, 0, 2.5], [324, 0, 0.5], [325, 0, 2.5], [326, 0, 0.5], [327, 0, 1.6],
  [328, 0, 0.3], [329, 0, 1.5], [330, 0, 0.4], [331, 0, 1.6], [332, 0, 0.3], [333, 0, 1.5], [334, 0, 0.3],
  [335, 0, 1.6], [336, 0, 0.3], [337, 0, 1.4], [338, 0, 0.2], [339, 0, 1.4], [340, 0, 0], [343, 0, 0], [344, 0, 0.8],
  [345, 0, 0], [349, 0, 0], [350, 0, 0.7], [351, 0, 0], [353, 0, 0], [354, 0, 0.8], [355, 0, 0.8],
];

const zeroLine: Row3[] = [[-13, 0, 0], [355, 0, 0]];

type PanelCfg = {
  r: number;
  c: number;
  data: Row3[];
  y: [number, number];
  ticks: number[];
  total?: string;
  note?: 'right' | 'rightInset' | 'left';
};

const panels: PanelCfg[] = [
  { r: 0, c: 0, data: hplHeat, y: [0, 1000], ticks: [0, 500, 1000], total: '1.1 GWh', note: 'right' },
  { r: 0, c: 1, data: hplLt, y: [0, 300], ticks: [0, 150, 300], total: '0.8 GWh', note: 'right' },
  { r: 0, c: 2, data: hplHt, y: [0, 1000], ticks: [0, 500, 1000], total: '1.1 GWh', note: 'right' },
  { r: 1, c: 0, data: hpzHeat, y: [0, 544], ticks: [0, 250, 500], total: '1.6 GWh', note: 'rightInset' },
  { r: 1, c: 1, data: hpzLt, y: [0, 500], ticks: [0, 250, 500], total: '0.9 GWh', note: 'right' },
  { r: 1, c: 2, data: hpzHt, y: [0, 100], ticks: [0, 50, 100], total: '51 MWh', note: 'right' },
  { r: 2, c: 0, data: hcpHeat, y: [0, 400], ticks: [0, 200, 400], total: '0.3 GWh', note: 'right' },
  { r: 2, c: 1, data: zeroLine, y: [-1, 1], ticks: [0] },
  { r: 2, c: 2, data: hcpHt, y: [0, 120], ticks: [0, 50, 100], total: '0.2 GWh', note: 'right' },
  { r: 3, c: 0, data: hcoHeat, y: [0, 1400], ticks: [0, 700, 1400], total: '4.4 GWh', note: 'right' },
  { r: 3, c: 1, data: hcoLt, y: [0, 300], ticks: [0, 150, 300], total: '0.8 GWh', note: 'right' },
  { r: 3, c: 2, data: zeroLine, y: [-1, 1], ticks: [0] },
  { r: 4, c: 0, data: hwnHeat, y: [0, 1000], ticks: [0, 500, 1000], total: '1.7 GWh', note: 'right' },
  { r: 4, c: 1, data: zeroLine, y: [-1, 1], ticks: [0] },
  { r: 4, c: 2, data: hwnHt, y: [0, 10.65], ticks: [0, 5, 10], total: '3.6 MWh', note: 'left' },
];

const colX = [124, 503, 882];
const rowY = [58, 269, 480, 691, 902];
const PW = 276;
const PH = 147;
const YW = 60;
const XH = 34;
const MT = 12;
const MR = 4;
const MB = 4;
const AXIS = '#8a8a8a';
const NAVY = '#2b388f';
const TEXT = '#262626';
const FONT = "'Open Sans', 'Noto Sans', sans-serif";

function Panel({ p }: { p: PanelCfg }) {
  const left = colX[p.c];
  const top = rowY[p.r];
  const rows = p.data.map(([day, lo, hi]) => ({ day, band: [lo, hi] }));
  const bottom = p.r === 4;
  return (
    <div style={{ position: 'absolute', left: left - YW, top: top - 1 - MT }}>
      <ComposedChart
        width={YW + PW + 1 + MR}
        height={MT + 1 + PH + XH + MB}
        data={rows}
        margin={{ top: MT, right: MR, bottom: MB, left: 0 }}
      >
        <XAxis
          xAxisId="b"
          dataKey="day"
          type="number"
          domain={dayRange}
          allowDataOverflow
          ticks={monthStarts}
          interval={0}
          height={XH}
          tickSize={-3}
          tickMargin={bottom ? 18 : 0}
          tickFormatter={(v: number) => (bottom ? monthLabels[monthStarts.indexOf(v)] : '')}
          axisLine={{ stroke: AXIS }}
          tickLine={{ stroke: AXIS }}
          tick={{ fill: TEXT, fontSize: 18 }}
        />
        <XAxis
          xAxisId="t"
          orientation="top"
          dataKey="day"
          type="number"
          domain={dayRange}
          allowDataOverflow
          ticks={monthStarts}
          interval={0}
          height={1}
          tickSize={-3}
          tick={false}
          axisLine={{ stroke: AXIS }}
          tickLine={{ stroke: AXIS }}
        />
        <YAxis
          yAxisId="l"
          type="number"
          domain={p.y}
          allowDataOverflow
          ticks={p.ticks}
          interval={0}
          width={YW}
          tickSize={-3}
          tickMargin={10}
          axisLine={{ stroke: AXIS }}
          tickLine={{ stroke: AXIS }}
          tick={{ fill: TEXT, fontSize: 18 }}
        />
        <YAxis
          yAxisId="r"
          orientation="right"
          type="number"
          domain={p.y}
          allowDataOverflow
          ticks={p.ticks}
          interval={0}
          width={1}
          tickSize={-3}
          tick={false}
          axisLine={{ stroke: AXIS }}
          tickLine={{ stroke: AXIS }}
        />
        <Area
          xAxisId="b"
          yAxisId="l"
          type="linear"
          dataKey="band"
          stroke={NAVY}
          strokeWidth={0.8}
          fill={NAVY}
          fillOpacity={1}
          dot={false}
          activeDot={false}
          isAnimationActive={false}
        />
      </ComposedChart>
    </div>
  );
}

function Note({ p }: { p: PanelCfg }) {
  if (!p.total) return null;
  const left = colX[p.c];
  const top = rowY[p.r];
  let x = left + PW - 13;
  let anchor: 'end' | 'start' = 'end';
  if (p.note === 'rightInset') x = left + PW - 35;
  if (p.note === 'left') {
    x = left + 15;
    anchor = 'start';
  }
  return (
    <text x={x} y={top + 27} textAnchor={anchor} fontSize={18} fill="#111" style={{ whiteSpace: 'pre' }}>
      <tspan fontStyle="italic">D</tspan>
      <tspan dy={-8} fontSize={14}>tot</tspan>
      <tspan dy={8}>{' = ' + p.total}</tspan>
    </text>
  );
}

export default function App() {
  return (
    <div
      style={{
        position: 'absolute',
        left: 0,
        top: 0,
        width: 1159,
        height: 1086,
        overflow: 'hidden',
        background: '#fff',
        fontFamily: FONT,
      }}
    >
      {panels.map((p, i) => (
        <Panel key={i} p={p} />
      ))}
      <svg
        width={1159}
        height={1086}
        style={{ position: 'absolute', left: 0, top: 0, pointerEvents: 'none', fontFamily: FONT }}
      >
        {colTitles.map((t, c) => (
          <text key={t} x={colX[c] + PW / 2} y={27} textAnchor="middle" fontSize={21} fontWeight="bold" fill="#000">
            {t}
          </text>
        ))}
        {rowNames.map((n, r) => (
          <text key={n} x={40} y={rowY[r] + PH / 2 + 7} textAnchor="middle" fontSize={21} fontWeight="bold" fill="#000">
            {n}
          </text>
        ))}
        {panels.map((p, i) => (
          <Note key={i} p={p} />
        ))}
      </svg>
    </div>
  );
}
